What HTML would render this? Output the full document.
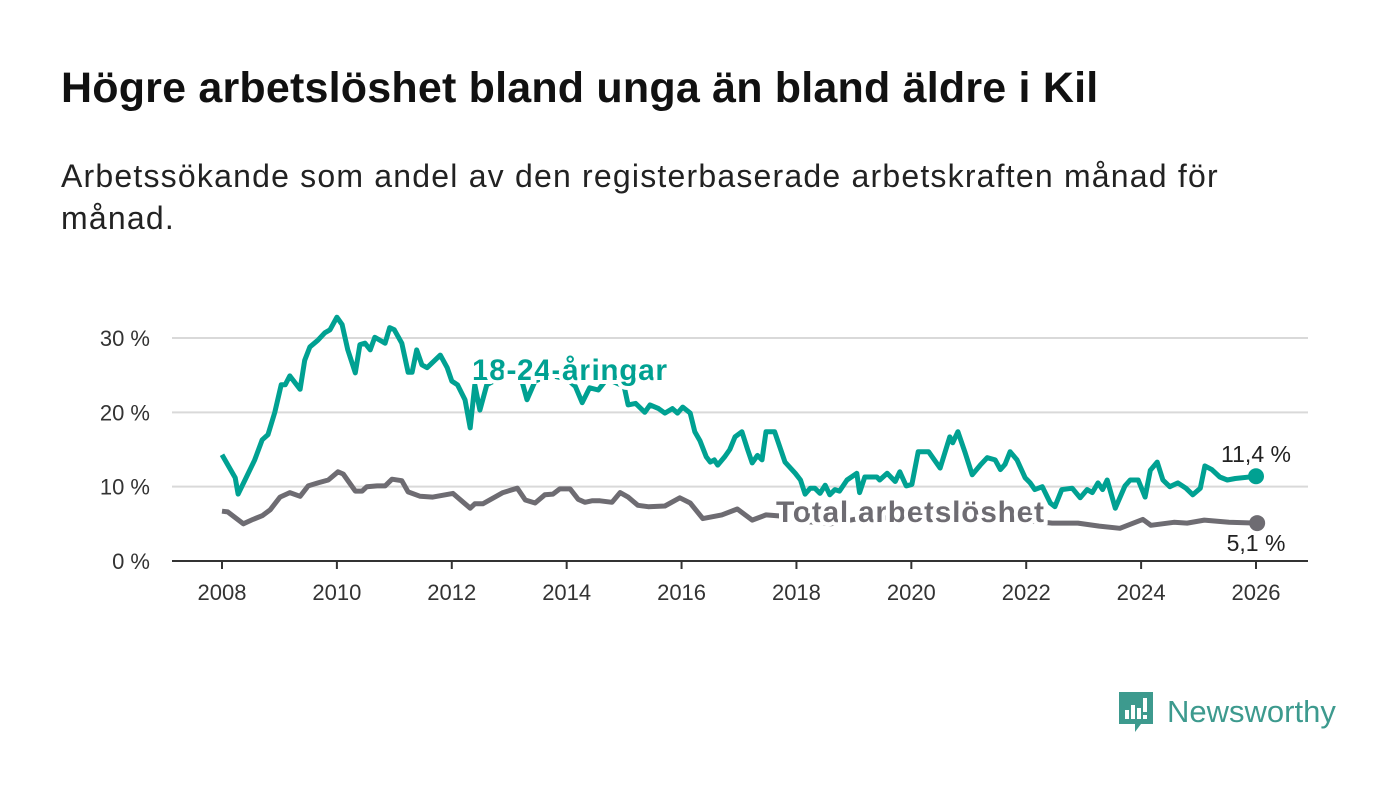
<!DOCTYPE html>
<html><head><meta charset="utf-8"><style>
body{margin:0;background:#fff;width:1400px;height:794px;overflow:hidden;font-family:"Liberation Sans","DejaVu Sans",sans-serif}
h1{position:absolute;left:61px;top:63px;margin:0;font-size:43px;line-height:50px;font-weight:bold;color:#111;letter-spacing:0.2px}
p{position:absolute;left:61px;top:155px;margin:0;font-size:32px;line-height:42px;color:#222;width:1210px;letter-spacing:1.2px}
svg{position:absolute;left:0;top:0}
</style></head><body>
<h1>Högre arbetslöshet bland unga än bland äldre i Kil</h1>
<p>Arbetssökande som andel av den registerbaserade arbetskraften månad för månad.</p>
<svg id="chart" width="1400" height="794"></svg>
<script>
const yTicks=[0,10,20,30];
const xTicks=[2008,2010,2012,2014,2016,2018,2020,2022,2024,2026];
const youthYears=[2008.0,2008.23,2008.28,2008.4,2008.57,2008.7,2008.8,2008.92,2009.03,2009.1,2009.18,2009.36,2009.44,2009.53,2009.67,2009.79,2009.88,2010.0,2010.09,2010.19,2010.32,2010.4,2010.49,2010.58,2010.66,2010.84,2010.92,2011.0,2011.13,2011.24,2011.31,2011.39,2011.48,2011.57,2011.8,2011.92,2012.0,2012.1,2012.23,2012.32,2012.4,2012.49,2012.61,2012.8,2013.0,2013.2,2013.31,2013.45,2013.7,2014.0,2014.15,2014.27,2014.4,2014.55,2014.7,2014.85,2015.0,2015.07,2015.2,2015.36,2015.45,2015.6,2015.71,2015.84,2015.93,2016.02,2016.15,2016.23,2016.32,2016.43,2016.5,2016.57,2016.63,2016.75,2016.84,2016.93,2017.05,2017.15,2017.23,2017.32,2017.4,2017.47,2017.62,2017.8,2017.98,2018.07,2018.15,2018.24,2018.32,2018.41,2018.5,2018.58,2018.67,2018.75,2018.88,2019.05,2019.1,2019.19,2019.4,2019.45,2019.58,2019.72,2019.8,2019.91,2020.01,2020.12,2020.3,2020.5,2020.67,2020.72,2020.81,2020.94,2021.06,2021.2,2021.32,2021.46,2021.55,2021.63,2021.72,2021.84,2021.98,2022.07,2022.15,2022.28,2022.42,2022.5,2022.62,2022.8,2022.94,2023.06,2023.15,2023.25,2023.33,2023.41,2023.55,2023.72,2023.81,2023.95,2024.07,2024.16,2024.28,2024.38,2024.5,2024.64,2024.78,2024.9,2025.03,2025.11,2025.23,2025.37,2025.5,2025.64,2026.0];
const youthValues=[14.3,11.2,9.0,10.9,13.6,16.3,17.0,20.0,23.7,23.7,24.9,23.1,27.0,28.8,29.7,30.7,31.1,32.8,31.8,28.4,25.3,29.1,29.3,28.4,30.1,29.3,31.4,31.1,29.3,25.4,25.4,28.4,26.4,26.0,27.7,26.0,24.2,23.7,21.7,17.9,23.7,20.3,23.7,24.5,25.3,24.8,21.7,24.2,25.0,24.5,23.5,21.3,23.3,23.0,24.5,24.0,23.5,21.0,21.2,20.0,21.0,20.5,19.9,20.5,19.9,20.7,19.9,17.4,16.2,14.0,13.3,13.6,12.9,14.0,15.0,16.7,17.4,15.0,13.2,14.2,13.6,17.4,17.4,13.3,11.8,10.9,9.0,9.8,9.8,9.1,10.2,8.9,9.6,9.4,10.9,11.8,9.2,11.3,11.3,10.9,11.8,10.7,12.0,10.1,10.3,14.7,14.7,12.5,16.7,15.9,17.4,14.5,11.6,12.9,13.9,13.6,12.3,13.0,14.7,13.6,11.2,10.5,9.6,10.0,7.8,7.3,9.6,9.8,8.5,9.6,9.2,10.5,9.6,10.9,7.1,10.1,10.9,10.9,8.6,12.2,13.3,10.9,10.0,10.5,9.8,8.9,9.8,12.8,12.3,11.3,10.9,11.1,11.4];
const totalYears=[2008.0,2008.1,2008.37,2008.54,2008.7,2008.84,2009.01,2009.18,2009.36,2009.5,2009.67,2009.85,2010.02,2010.11,2010.32,2010.44,2010.52,2010.7,2010.84,2010.96,2011.13,2011.24,2011.45,2011.67,2012.02,2012.2,2012.32,2012.4,2012.54,2012.75,2012.89,2013.14,2013.28,2013.45,2013.62,2013.76,2013.88,2014.06,2014.2,2014.32,2014.44,2014.58,2014.79,2014.93,2015.07,2015.24,2015.42,2015.71,2015.97,2016.15,2016.37,2016.7,2016.97,2017.23,2017.47,2017.8,2018.2,2018.6,2019.0,2019.5,2020.0,2020.4,2020.8,2021.3,2021.8,2022.2,2022.45,2022.9,2023.27,2023.63,2024.03,2024.17,2024.57,2024.8,2025.1,2025.53,2026.02];
const totalValues=[6.7,6.6,5.0,5.6,6.1,6.9,8.6,9.2,8.7,10.1,10.5,10.9,12.0,11.7,9.4,9.4,10.0,10.1,10.1,11.0,10.8,9.3,8.7,8.6,9.1,7.9,7.1,7.7,7.7,8.6,9.2,9.8,8.2,7.8,8.9,9.0,9.7,9.7,8.3,7.9,8.1,8.1,7.9,9.2,8.6,7.5,7.3,7.4,8.5,7.8,5.7,6.2,7.0,5.5,6.2,6.0,5.3,5.0,5.6,5.8,5.9,6.5,6.3,5.9,5.6,5.3,5.1,5.1,4.7,4.4,5.6,4.8,5.2,5.1,5.5,5.2,5.1];
const NS='http://www.w3.org/2000/svg';
const svg=document.getElementById('chart');
const X=y=>222+(y-2008)*(1256-222)/18;
const Y=v=>561-v*(561-338)/30;
function mk(t,a,p){const e=document.createElementNS(NS,t);for(const k in a)e.setAttribute(k,a[k]);(p||svg).appendChild(e);return e;}
yTicks.forEach(t=>{
 if(t>0){const g=mk('line',{x1:172,x2:1308,y1:Y(t),y2:Y(t),stroke:'#d9d9d9','stroke-width':2});
 
 }
 const l=mk('text',{x:150,y:Y(t)+8,'text-anchor':'end','font-size':22,fill:'#333'});l.textContent=t+' %';
 
 
});
const ax=mk('line',{x1:172,x2:1308,y1:561,y2:561,stroke:'#333','stroke-width':2});


xTicks.forEach(t=>{
 const k=mk('line',{x1:X(t),x2:X(t),y1:561,y2:569,stroke:'#333','stroke-width':2});
 
 
 const l=mk('text',{x:X(t),y:600,'text-anchor':'middle','font-size':22,fill:'#333'});l.textContent=t;
 
 
});
function line(ys,vs,c,name){
 const d=ys.map((y,i)=>(i?'L':'M')+X(y).toFixed(1)+','+Y(vs[i]).toFixed(1)).join('');
 const p=mk('path',{d:d,fill:'none',stroke:c,'stroke-width':5,'stroke-linejoin':'round'});
 
 
 const n=ys.length-1;
 const dot=mk('circle',{cx:X(ys[n]),cy:Y(vs[n]),r:8,fill:c});
 
 
}
line(totalYears,totalValues,'#6e6c72','total-line');
line(youthYears,youthValues,'#00a192','youth-line');
const ly=mk('text',{x:472,y:380,'font-size':30,'font-weight':'bold',fill:'#00a192',stroke:'#fff','stroke-width':8,'paint-order':'stroke','textLength':195});ly.textContent='18-24-åringar';


const lt=mk('text',{x:776,y:522,'font-size':30,'font-weight':'bold',fill:'#6e6c72',stroke:'#fff','stroke-width':8,'paint-order':'stroke','textLength':268});lt.textContent='Total arbetslöshet';


const v1=mk('text',{x:1256,y:462,'text-anchor':'middle','font-size':23,fill:'#222'});v1.textContent='11,4 %';


const v2=mk('text',{x:1256,y:551,'text-anchor':'middle','font-size':23,fill:'#222'});v2.textContent='5,1 %';


</script>
<div style="position:absolute;left:1119px;top:690px;display:flex;align-items:center">
<svg width="36" height="44" style="position:static"><path d="M0 2h34v32H22l-6 8v-8H0z" fill="#3d9a8e"/><rect x="6" y="20" width="4" height="9" fill="#fff"/><rect x="12" y="15" width="4" height="14" fill="#fff"/><rect x="18" y="18" width="4" height="11" fill="#fff"/><rect x="24" y="8" width="4" height="14" fill="#fff"/><rect x="24" y="25" width="4" height="4" fill="#fff"/></svg>
<span style="font-size:31px;color:#3d9a8e;margin-left:12px;font-weight:500">Newsworthy</span></div>
</body></html>
